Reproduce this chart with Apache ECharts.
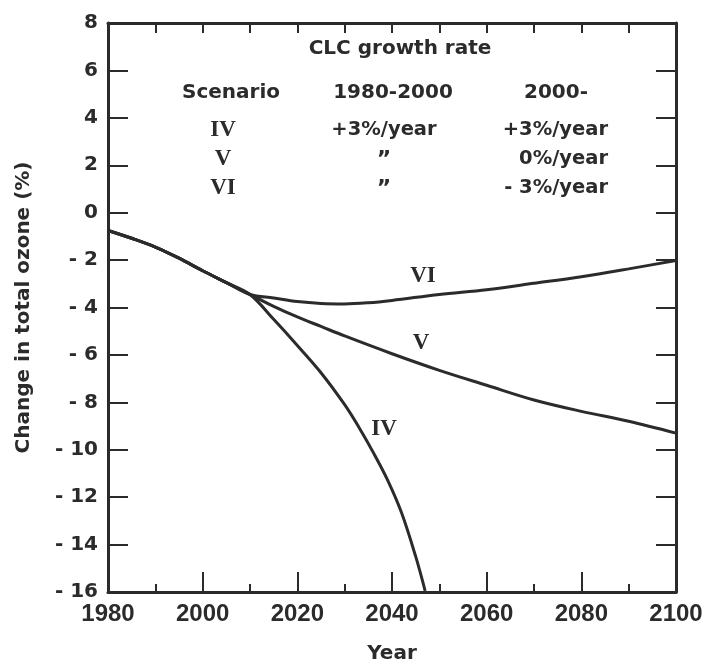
<!DOCTYPE html>
<html>
<head>
<meta charset="utf-8">
<script src="https://cdn.jsdelivr.net/npm/echarts@6/dist/echarts.min.js"></script>
<style>
html,body{margin:0;padding:0;background:#fff;}
#chart{width:707px;height:661px;}
</style>
</head>
<body>
<div id="chart"></div>
<script>
// ---- data ----
const xTicks = [1980, 2000, 2020, 2040, 2060, 2080, 2100];
const yTicks = [-16, -14, -12, -10, -8, -6, -4, -2, 0, 2, 4, 6, 8];

const commonYears = [1980, 1985, 1990, 1995, 2000, 2005, 2010];
const commonVals  = [-0.75, -1.08, -1.45, -1.92, -2.45, -2.95, -3.45];

const ivYears = [2015, 2020, 2025, 2030, 2033, 2036, 2039, 2042, 2045, 2047];
const ivVals  = [-4.5, -5.6, -6.75, -8.1, -9.05, -10.1, -11.25, -12.65, -14.5, -15.95];

const vYears = [2015, 2020, 2025, 2030, 2040, 2050, 2060, 2070, 2080, 2090, 2100];
const vVals  = [-3.95, -4.4, -4.8, -5.2, -5.95, -6.65, -7.28, -7.9, -8.38, -8.8, -9.3];

const viYears = [2015, 2020, 2025, 2030, 2035, 2040, 2050, 2060, 2070, 2080, 2090, 2100];
const viVals  = [-3.6, -3.75, -3.83, -3.85, -3.8, -3.7, -3.45, -3.25, -2.98, -2.7, -2.37, -2.02];

const seriesNames = ['IV', 'V', 'VI'];

// table texts
const tableTitle = 'CLC growth rate';
const tableHeader = ['Scenario', '1980-2000', '2000-'];
const tableScen = ['IV', 'V', 'VI'];
const tableCol2 = ['+3%/year', '\u201D', '\u201D'];
const tableCol3 = ['+3%/year', '0%/year', '- 3%/year'];

// ---- build ----
function pts(ys, vs) { return ys.map((y, i) => [y, vs[i]]); }
const common = pts(commonYears, commonVals);
const seriesData = [
  common.concat(pts(ivYears, ivVals)),
  common.concat(pts(vYears, vVals)),
  common.concat(pts(viYears, viVals))
];

const INK = '#2b2b2b';
const SANS = '"Liberation Sans", Arial, Helvetica, sans-serif';
const WIDE = '"DejaVu Sans", Verdana, sans-serif';
const SERIF = '"Liberation Serif", "Times New Roman", serif';

const chart = echarts.init(document.getElementById('chart'));

const G = { left: 108, right: 31, top: 23, bottom: 69, outerBoundsMode: 'none', containLabel: false };

function txt(x, y, s, opts) {
  return {
    type: 'text', x: x, y: y,
    style: Object.assign({
      text: s, fill: INK, font: 'bold 19.5px ' + WIDE,
      textAlign: 'center', textVerticalAlign: 'middle'
    }, opts || {})
  };
}

const graphics = [];
graphics.push(txt(400, 49, tableTitle, { font: 'bold 20px ' + WIDE }));
graphics.push(txt(231, 93, tableHeader[0], { font: 'bold 20px ' + WIDE }));
graphics.push(txt(393, 93, tableHeader[1], { font: 'bold 20px ' + WIDE }));
graphics.push(txt(556, 93, tableHeader[2], { font: 'bold 20px ' + WIDE }));
const rowY = [130, 159, 188];
for (let i = 0; i < 3; i++) {
  graphics.push(txt(223, rowY[i], tableScen[i], { font: 'bold 23px ' + SERIF }));
  if (i === 0) graphics.push(txt(384, rowY[i], tableCol2[i]));
  else graphics.push(txt(384, rowY[i] + 1, tableCol2[i], { font: 'bold 22px ' + WIDE }));
  graphics.push(txt(608, rowY[i], tableCol3[i], { textAlign: 'right' }));
}
// curve labels
graphics.push(txt(423, 276, 'VI', { font: 'bold 23px ' + SERIF }));
graphics.push(txt(421, 343, 'V', { font: 'bold 23px ' + SERIF }));
graphics.push(txt(384, 429, 'IV', { font: 'bold 23px ' + SERIF }));

const nameStyle = { color: INK, fontSize: 20, fontWeight: 'bold', fontFamily: WIDE };

chart.setOption({
  backgroundColor: '#fff',
  animation: false,
  grid: G,
  xAxis: [{
    type: 'value', min: xTicks[0], max: xTicks[xTicks.length - 1], interval: 20,
    position: 'bottom',
    axisLine: { show: true, onZero: false, lineStyle: { color: INK, width: 3 } },
    axisTick: { show: true, inside: true, length: 20, lineStyle: { color: INK, width: 2 } },
    minorTick: { show: true, splitNumber: 2, length: 8, lineStyle: { color: INK, width: 2 } },
    axisLabel: { margin: 10, color: INK, fontSize: 24, fontWeight: 'bold', fontFamily: SANS,
      formatter: v => String(v) },
    splitLine: { show: false },
    name: 'Year', nameLocation: 'middle', nameGap: 52,
    nameTextStyle: nameStyle
  }, {
    type: 'value', min: xTicks[0], max: xTicks[xTicks.length - 1], interval: 10,
    position: 'top',
    axisLine: { show: true, onZero: false, lineStyle: { color: INK, width: 3 } },
    axisTick: { show: true, inside: true, length: 10, lineStyle: { color: INK, width: 2 } },
    axisLabel: { show: false },
    splitLine: { show: false }
  }],
  yAxis: [{
    type: 'value', min: yTicks[0], max: yTicks[yTicks.length - 1], interval: 2,
    position: 'left',
    axisLine: { show: true, onZero: false, lineStyle: { color: INK, width: 3 } },
    axisTick: { show: true, inside: true, length: 20, lineStyle: { color: INK, width: 2 } },
    axisLabel: {
      margin: 10, color: INK, fontSize: 20, fontWeight: 'bold', fontFamily: WIDE,
      formatter: v => (v < 0 ? '- ' + Math.abs(v) : String(v))
    },
    splitLine: { show: false },
    name: 'Change in total ozone (%)', nameLocation: 'middle', nameGap: 74,
    nameTextStyle: nameStyle
  }, {
    type: 'value', min: yTicks[0], max: yTicks[yTicks.length - 1], interval: 2,
    position: 'right',
    axisLine: { show: true, onZero: false, lineStyle: { color: INK, width: 3 } },
    axisTick: { show: true, inside: true, length: 20, lineStyle: { color: INK, width: 2 } },
    axisLabel: { show: false },
    splitLine: { show: false }
  }],
  series: seriesData.map((d, i) => ({
    name: seriesNames[i],
    type: 'line',
    data: d,
    xAxisIndex: 0, yAxisIndex: 0,
    symbol: 'none',
    smooth: 0.35,
    lineStyle: { color: INK, width: 3 },
    clip: true
  })),
  graphic: graphics
});
</script>
</body>
</html>
